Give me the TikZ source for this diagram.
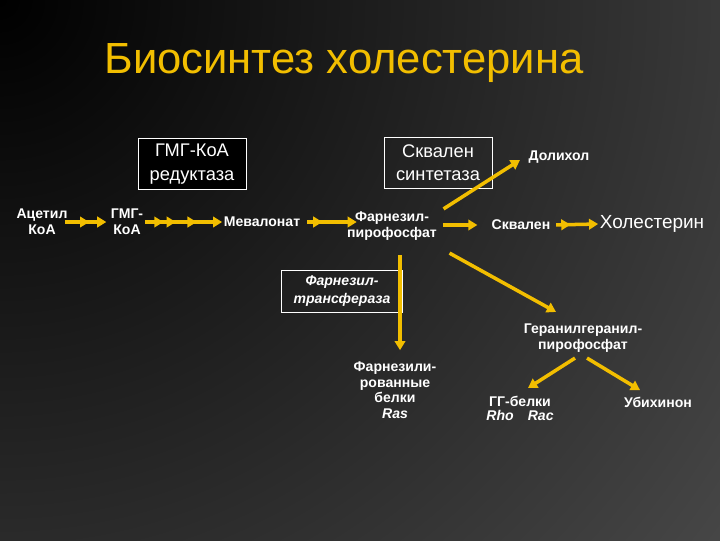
\documentclass[tikz,border=0pt]{standalone}
\usepackage{fontspec}
\setmainfont{Liberation Sans}
\usepackage{xcolor}
\usetikzlibrary{positioning, calc, arrows.meta, decorations.markings}
\definecolor{gold}{RGB}{242,190,0}
\definecolor{bglight}{RGB}{82,82,82}

\begin{document}
\begin{tikzpicture}[x=0.025cm, y=-0.025cm, every node/.style={text=white, font=\bfseries\fontsize{10}{11.5}\selectfont, align=center, inner sep=1pt}]
      \tikzstyle{enzyme}=[rectangle, draw=white, line width=0.6pt, font=\fontsize{13}{16.5}\selectfont, minimum width=2.7cm, minimum height=1.275cm]
      \tikzstyle{flow}=[gold, line width=2.5pt, -{Triangle[length=6.5pt, width=7.5pt]}]
      \tikzset{heads/.style={postaction={decorate, decoration={markings, mark=at position #1 with {\arrow{Triangle[length=6.5pt, width=7.5pt]}}}}}}
      % background
      \useasboundingbox (0,0) rectangle (720,540);
      \begin{scope}
        \clip (0,0) rectangle (720,540);
        \shade[inner color=black, outer color=bglight] (0,0) circle (1050);
      \end{scope}
      \node[text=gold, font=\fontsize{31}{36}\selectfont] (title) at (344,63) {Биосинтез холестерина};
      % enzymes
      \node[enzyme, fill=black] (hmgred) at (192,164) {ГМГ-КоА\\редуктаза};
      \node[enzyme] (sqsyn) at (438,163) {Сквален\\синтетаза};
      \node[enzyme, minimum width=3.02cm, minimum height=1.05cm, font=\bfseries\itshape\fontsize{10}{12.5}\selectfont] (ftase) at (342,291) {Фарнезил-\\трансфераза};
      % metabolites
      \node (acetyl) at (42,222) {Ацетил\\КоА};
      \node (hmg) at (127,222) {ГМГ-\\КоА};
      \node (meval) at (262,222) {Мевалонат};
      \node (fpp) at (392,226) {Фарнезил-\\пирофосфат};
      \node (squal) at (521,225) {Сквален};
      \node[font=\fontsize{13.5}{16}\selectfont] (chol) at (652,224) {Холестерин};
      \node (dolich) at (559,157) {Долихол};
      \node (ggpp) at (583,338) {Геранилгеранил-\\пирофосфат};
      \node[font=\bfseries\fontsize{10}{11}\selectfont] (farnprot) at (395,390) {Фарнезили-\\рованные\\белки\\{\itshape Ras}};
      \node[font=\bfseries\fontsize{10}{10}\selectfont] (ggprot) at (520,408) {ГГ-белки\\{\itshape Rho\quad Rac}};
      \node (ubiq) at (658,402) {Убихинон};
      % arrows
      \draw[flow, heads=0.5, shorten <=-3pt, shorten >=2pt] (acetyl.east) -- (hmg.west);
      \draw[flow, heads=0.24, heads=0.4, heads=0.67] (hmg.east) -- (meval.west);
      \draw[flow, heads=0.47, shorten <=4pt, shorten >=-8pt] (meval.east) -- (meval.east -| fpp.west);
      \draw[flow, shorten <=3pt, shorten >=9pt] (fpp.east |- squal) -- (squal.west);
      \draw[flow, heads=0.4, shorten <=3pt] (squal.east) -- (chol.west);
      \draw[flow] ($(fpp.north east)+(5,-1)$) -- ($(dolich.west)+(-7,3)$);
      \draw[flow] ($(fpp.south)+(8,13)$) -- ($(farnprot.north)+(5,-10)$);
      \draw[flow] ($(fpp.south east)+(11,11)$) -- ($(ggpp.north)+(-27,-10)$);
      \draw[flow] ($(ggpp.south)+(-8,4)$) -- ($(ggprot.north)+(8,-6)$);
      \draw[flow] ($(ggpp.south)+(4,4)$) -- ($(ubiq.north)+(-18,-5)$);
    \end{tikzpicture}
\end{document}
